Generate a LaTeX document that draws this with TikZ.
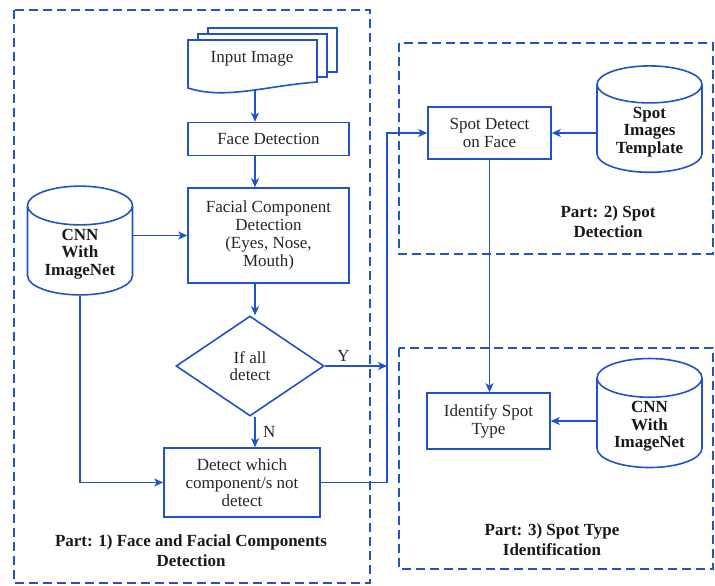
\documentclass[tikz,border=0pt]{standalone}
\usepackage{fontspec}
\setmainfont{Liberation Serif}
\usetikzlibrary{shapes.geometric, arrows.meta}
\definecolor{flowblue}{RGB}{32,82,200}
\tikzset{
  box/.style={draw=flowblue, line width=1.6pt, fill=white, align=center, inner sep=2pt, text=black!85},
  db/.style={cylinder, shape border rotate=90, draw=flowblue, line width=1.6pt, fill=white, aspect=0.5,
    minimum width=105pt, align=center, text=black!90,
    font=\fontsize{17}{17.5}\selectfont\bfseries},
  link/.style={draw=flowblue, line width=1.6pt, ->, >={Stealth[length=9pt, width=8pt, inset=2.5pt]}},
  part/.style={draw=flowblue, line width=2.6pt, dash pattern=on 9pt off 5pt},
  partlabel/.style={align=center, text=black!90, font=\fontsize{17}{20}\selectfont\bfseries}
}
\begin{document}
\begin{tikzpicture}[x=1pt, y=-1pt, font=\fontsize{17}{17.8}\selectfont]
    \useasboundingbox (0,0) rectangle (715,586);
    % the three parts
    \draw [part] (14,10) rectangle (370,583);
    \draw [part] (399,43) rectangle (713,254);
    \draw [part] (399,348) rectangle (713,569);
    \node [partlabel] at (191,551) {Part: 1) Face and Facial Components\\Detection};
    \node [partlabel] at (608,222) {Part: 2) Spot\\Detection};
    \node [partlabel] at (552,540) {Part: 3) Spot Type\\Identification};
    % input image (stack of documents)
    \draw [draw=flowblue, line width=1.6pt, fill=white] (208,28) rectangle (337,72);
    \draw [draw=flowblue, line width=1.6pt, fill=white] (198,34) rectangle (327,77);
    \draw [draw=flowblue, line width=1.6pt, fill=white] (188,40) -- (317,40) -- (317,82)
        .. controls (265,86) and (225,100) .. (188,88) -- cycle;
    \node [text=black!85] (input) at (252,59) {Input Image};
    \coordinate (inbot) at (255,90);
    % part 1
    \node [box, minimum width=161pt, minimum height=33pt] (face) at (268.5,139) {Face Detection};
    \node [box, minimum width=161pt, minimum height=95pt] (comp) at (268.5,235.5)
        {Facial Component\\Detection\\(Eyes, Nose,\\Mouth)};
    \node [diamond, draw=flowblue, line width=1.6pt, align=center, text=black!85,
        minimum width=148pt, minimum height=100pt, aspect=1.48, inner sep=0pt] (all) at (250,366) {If all\\detect};
    \node [box, minimum width=156pt, minimum height=69pt] (which) at (242,482.5)
        {Detect which\\component/s not\\detect};
    \node [db, minimum height=93pt] (cnnA) at (80,254) {CNN\\With\\ImageNet};
    % part 2 and 3
    \node [box, minimum width=123pt, minimum height=52pt] (spot) at (489.5,133) {Spot Detect\\on Face};
    \node [db, minimum height=105pt] (tmpl) at (649.5,132) {Spot\\Images\\Template};
    \node [box, minimum width=123pt, minimum height=56pt] (kind) at (488.5,421) {Identify Spot\\Type};
    \node [db, minimum height=109pt] (cnnB) at (649.5,426.5) {CNN\\With\\ImageNet};
    \coordinate (jy) at (387,366);
    \coordinate (jt) at (387,133);
    % connectors
    \draw [link] (inbot) -- (face.north -| inbot);
    \draw [link] (face.south -| inbot) -- (comp.north -| inbot);
    \draw [link] (comp.south -| inbot) -- (all.north -| inbot);
    \draw [link] (cnnA.east |- comp.west) -- (comp.west);
    \draw [link] (cnnA.south) |- (which.west);
    \draw [link] (all.south -| inbot) -- node [right, xshift=4pt, text=black!85] {N} (which.north -| inbot);
    \draw [link] (all.east) -- node [above, pos=0.3, text=black!85] {Y} (jy);
    \draw [link] (which.east) -| (jt) -- (spot.west);
    \draw [link] (tmpl.west |- spot.east) -- (spot.east);
    \draw [link] (spot.south) -- (kind.north -| spot.south);
    \draw [link] (cnnB.west |- kind.east) -- (kind.east);
\end{tikzpicture}
\end{document}
